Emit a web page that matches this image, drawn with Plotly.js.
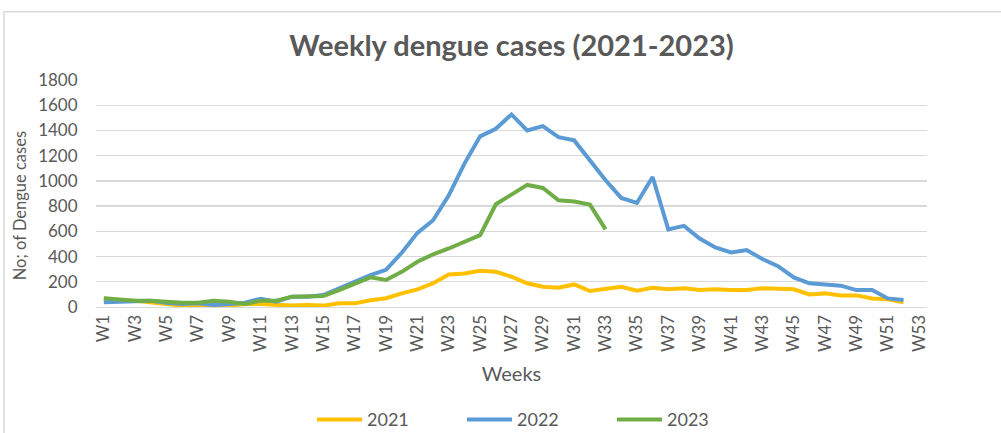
<!DOCTYPE html>
<html>
<head>
<meta charset="utf-8">
<script src="https://cdn.plot.ly/plotly-3.0.1.min.js"></script>
<style>
html,body{margin:0;padding:0;background:#fff;}
#chart{width:1001px;height:433px;}
</style>
</head>
<body>
<div id="chart"></div>
<script>
// Category labels
const weeks = [];
for (let i = 1; i <= 53; i++) weeks.push('W' + i);

// Series values
const cases2021 = [70, 50, 50, 34, 24, 11, 8, 8, 11, 24, 24, 16, 11, 16, 11, 29, 29, 53, 70, 108,
  140, 188, 258, 266, 287, 279, 240, 188, 161, 153, 179, 127, 148, 161, 129, 153, 140, 148, 134, 140,
  134, 134, 148, 148, 140, 100, 108, 92, 92, 68, 61, 37];
const cases2022 = [37, 42, 50, 50, 34, 24, 29, 16, 24, 34, 66, 42, 82, 82, 95, 148, 200, 253, 295, 430,
  588, 688, 886, 1137, 1353, 1413, 1527, 1400, 1434, 1347, 1321, 1163, 1005, 865, 825, 1031, 615, 643, 543, 472,
  433, 451, 380, 324, 235, 188, 179, 169, 134, 134, 68, 55];
const cases2023 = [69, 58, 50, 50, 42, 34, 34, 50, 42, 24, 50, 50, 82, 82, 87, 134, 182, 235, 214, 279,
  359, 417, 464, 517, 570, 815, 891, 968, 944, 846, 836, 812, 615];

const seriesNames = ['2021', '2022', '2023'];
const seriesColors = ['#FFC000', '#5B9BD5', '#70AD47'];
const seriesValues = [cases2021, cases2022, cases2023];

const yTicks = [0, 200, 400, 600, 800, 1000, 1200, 1400, 1600, 1800];

const FONT = 'Lato, "Open Sans", sans-serif';
const GREY = '#595959';

const traces = seriesValues.map((vals, i) => ({
  type: 'scatter',
  mode: 'lines',
  name: seriesNames[i],
  x: weeks.slice(0, vals.length),
  y: vals,
  line: {color: seriesColors[i], width: 4},
  hoverinfo: 'x+y+name'
}));
// hidden trace so that every week category (W1..W53) is on the axis
traces.unshift({
  type: 'scatter', mode: 'lines', x: weeks, y: weeks.map(() => null),
  showlegend: false, hoverinfo: 'skip', line: {width: 0}
});

const L = 96, R = 74, T = 79.5, B = 126;
const pw = 1001 - L - R, ph = 433 - T - B;

const layout = {
  width: 1001, height: 433,
  margin: {l: L, r: R, t: T, b: B, pad: 0, autoexpand: false},
  paper_bgcolor: '#ffffff', plot_bgcolor: '#ffffff',
  font: {family: FONT, color: GREY, size: 17},
  title: {
    text: '<b>Weekly dengue cases (2021-2023)</b>',
    font: {family: FONT, size: 29, color: GREY},
    x: 0.5, xref: 'paper', xanchor: 'center',
    y: 1 - 46 / 433, yref: 'container', yanchor: 'middle'
  },
  xaxis: {
    type: 'category',
    categoryorder: 'array', categoryarray: weeks,
    range: [-0.5, 52.5],
    tickmode: 'linear', tick0: 0, dtick: 2,
    tickangle: -90,
    tickfont: {family: FONT, size: 17, color: GREY},
    ticks: '', showgrid: false,
    showline: true, linecolor: '#D9D9D9', linewidth: 1,
    zeroline: false,
    title: {text: 'Weeks', font: {family: FONT, size: 20, color: GREY}, standoff: 15},
    automargin: false
  },
  yaxis: {
    range: [0, 1800],
    tickvals: yTicks,
    tickfont: {family: FONT, size: 17, color: GREY},
    ticks: 'outside', ticklen: 14, tickcolor: 'rgba(0,0,0,0)',
    showgrid: true, gridcolor: '#D9D9D9', gridwidth: 1.3,
    zeroline: false, showline: false,
    automargin: false
  },
  annotations: [{
    text: 'No; of Dengue cases',
    textangle: -90,
    xref: 'paper', yref: 'paper',
    x: (20 - L) / pw, y: (307 - 206) / ph,
    xanchor: 'center', yanchor: 'middle',
    showarrow: false,
    font: {family: FONT, size: 16.5, color: GREY}
  }],
  showlegend: true,
  legend: {
    orientation: 'h',
    x: (312 - L) / pw, xanchor: 'left',
    y: (307 - 420) / ph, yanchor: 'middle',
    font: {family: FONT, size: 18, color: GREY},
    itemwidth: 45,
    entrywidth: 90, entrywidthmode: 'pixels',
    traceorder: 'normal', bgcolor: 'rgba(0,0,0,0)'
  },
  shapes: [{
    type: 'rect', xref: 'paper', yref: 'paper',
    x0: (4 - L) / pw, x1: (1010 - L) / pw,
    y0: (307 - 440) / ph, y1: (307 - 11) / ph,
    line: {color: '#D9D9D9', width: 1.5}, fillcolor: 'rgba(0,0,0,0)', layer: 'below'
  }]
};

Plotly.newPlot('chart', traces, layout, {displayModeBar: false, staticPlot: true});
</script>
</body>
</html>
